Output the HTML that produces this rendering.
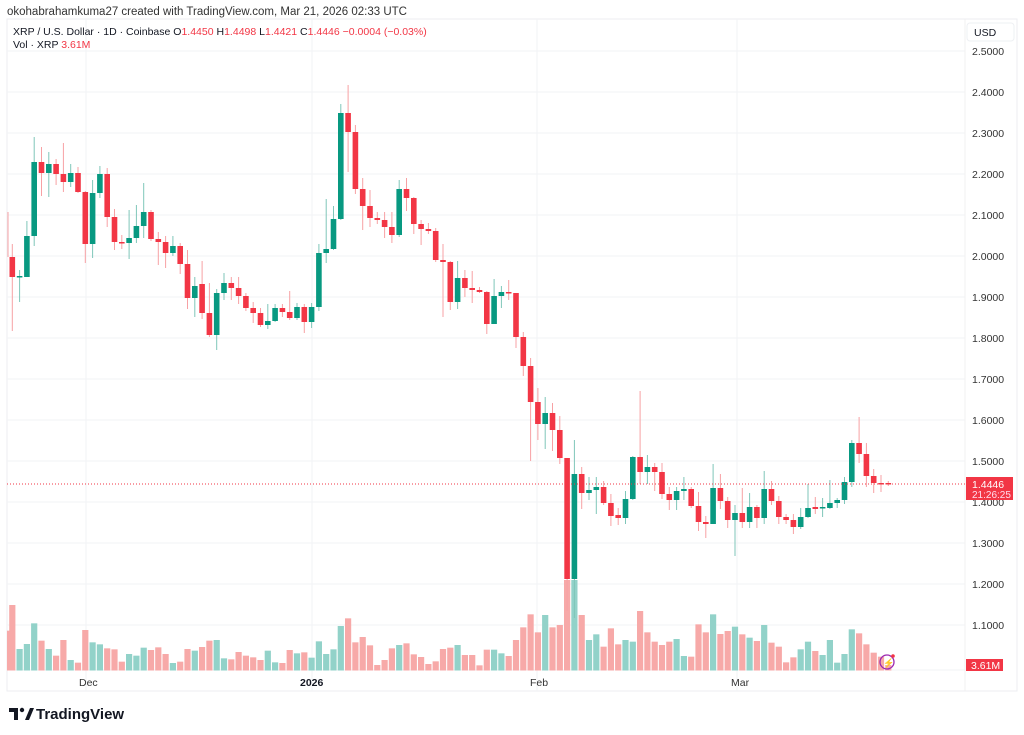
<!DOCTYPE html>
<html><head><meta charset="utf-8"><style>
body{margin:0;background:#fff;width:1024px;height:735px;overflow:hidden;font-family:"Liberation Sans",sans-serif;}
svg{position:absolute;left:0;top:0}
</style></head><body>
<svg id="s" width="1024" height="735" xmlns="http://www.w3.org/2000/svg" font-family="Liberation Sans, sans-serif">
<rect x="7" y="19" width="1010" height="672" fill="none" stroke="#eceef2"/>
<line x1="965" y1="19" x2="965" y2="691" stroke="#f0f0f0"/>
<g id="grid" stroke="#f2f3f5" stroke-width="1"></g>
<g id="vol"></g>
<g id="cs"></g>
<line x1="7" y1="484" x2="965" y2="484" stroke="#f23645" stroke-dasharray="1,2" stroke-width="1"/>
<text x="7" y="15" font-size="11.5" fill="#333">okohabrahamkuma27 created with TradingView.com, Mar 21, 2026 02:33 UTC</text>
<text x="13" y="35" font-size="10.5" fill="#131722">XRP / U.S. Dollar · 1D · Coinbase <tspan>O</tspan><tspan fill="#f23645">1.4450</tspan> <tspan>H</tspan><tspan fill="#f23645">1.4498</tspan> <tspan>L</tspan><tspan fill="#f23645">1.4421</tspan> <tspan>C</tspan><tspan fill="#f23645">1.4446</tspan> <tspan fill="#f23645">−0.0004 (−0.03%)</tspan></text>
<text x="13" y="48" font-size="10.5" fill="#131722">Vol · XRP <tspan fill="#f23645">3.61M</tspan></text>
<rect x="967" y="23" width="47" height="18" rx="3" fill="#fff" stroke="#eef0f3"/>
<text x="974" y="36" font-size="10.5" fill="#131722">USD</text>
<g id="pl" font-size="10.5" fill="#333"></g>
<rect x="966" y="477" width="47" height="23" fill="#f23645"/>
<text x="972" y="488" font-size="10.5" fill="#fff">1.4446</text>
<text x="972" y="498" font-size="10" fill="#fde">21:26:25</text>
<rect x="966" y="659" width="37" height="12" fill="#f23645"/>
<text x="971" y="669" font-size="10.5" fill="#fff">3.61M</text>
<g font-size="10.5" fill="#333">
<text x="79" y="686">Dec</text>
<text x="300" y="686" font-weight="bold" fill="#131722">2026</text>
<text x="530" y="686">Feb</text>
<text x="731" y="686">Mar</text>
</g>
<circle cx="887" cy="662" r="7" fill="none" stroke="#9c27b0" stroke-width="1.3"/>
<text x="883" y="666" font-size="9" fill="#7b1fa2">⚡</text>
<circle cx="893" cy="656" r="1.8" fill="#f23645"/>
<g fill="#131722"><path d="M9 708h9v12h-4v-8h-5z"/><circle cx="22" cy="710" r="2.2"/><path d="M25 720l5-12h4l-5 12z"/></g>
<text x="36" y="719" font-size="15" font-weight="bold" fill="#131722">TradingView</text>
</svg>
<script>
var NS="http://www.w3.org/2000/svg";
function el(p,t,a){var e=document.createElementNS(NS,t);for(var k in a)e.setAttribute(k,a[k]);p.appendChild(e);return e;}
var g=document.getElementById('grid'),pl=document.getElementById('pl');
for(var i=0;i<=14;i++){var y=51+i*41;el(g,'line',{x1:7,x2:965,y1:y,y2:y});if(i<=14){var t=el(pl,'text',{x:972,y:y+4});t.textContent=(2.5-i*0.1).toFixed(4);}}
el(g,'line',{x1:7,x2:965,y1:670,y2:670});
[86,312,537,737].forEach(function(x){el(g,'line',{x1:x,x2:x,y1:19,y2:691});});
var C=[
['r',257,277,244,331],['g',276,277,270,302],['g',236,277,221,277],['g',162,236,137,246],['r',162,173,147,196],
['g',164,173,152,197],['r',164,174,159,185],['r',174,182,143,192],['g',173,182,164,187],['r',173,192,167,193],
['r',192,244,191,263],['g',193,244,180,258],['g',174,193,166,198],['r',174,217,168,227],['r',217,242,209,250],
['r',242,243,235,249],['g',238,243,210,259],['g',226,238,205,243],['g',212,226,183,238],['r',212,239,210,241],
['r',239,242,232,265],['r',242,253,236,268],['g',246,253,236,256],['r',246,264,243,274],['r',264,298,250,309],
['g',286,298,277,317],['r',284,313,261,319],['r',313,335,283,337],['g',293,335,289,350],['g',283,293,273,300],
['r',283,288,277,300],['r',288,296,277,304],['r',296,308,293,311],['r',308,313,302,323],['r',313,325,308,327],
['g',321,325,304,329],['g',308,321,304,322],['r',308,312,304,317],['r',312,318,291,320],['g',307,318,303,320],
['r',307,322,304,333],['g',307,322,303,328],['g',253,307,244,311],['g',249,253,199,263],['g',219,249,206,250],
['g',113,219,104,220],['r',113,132,85,172],['r',132,189,125,194],['r',189,206,178,230],['r',206,218,190,227],
['r',218,220,212,224],['r',220,227,212,238],['r',227,235,212,243],['g',189,235,180,237],['r',189,198,178,211],
['r',198,224,197,234],['r',224,229,220,245],['r',229,231,223,234],['r',231,260,228,262],['r',260,262,244,317],
['r',262,302,261,310],['g',278,302,261,309],['r',278,288,270,297],['r',288,290,271,303],['r',290,292,287,293],
['r',292,324,291,334],['g',296,324,279,324],['g',292,296,286,308],['r',292,293,280,300],['r',293,337,293,348],
['r',337,366,332,376],['r',366,402,358,461],['r',402,424,388,440],['g',413,424,397,449],['r',413,430,403,451],
['r',430,458,416,464],['r',458,579,458,611],['g',474,579,440,618],['r',474,493,467,509],['g',490,493,477,500],
['g',487,490,477,514],['r',487,503,481,505],['r',503,516,494,526],['r',515,518,508,525],['g',499,518,491,524],
['g',457,499,456,500],['r',457,472,391,484],['g',467,472,455,484],['r',467,472,463,491],['r',472,494,463,499],
['r',494,500,487,510],['g',491,500,487,510],['g',489,491,477,500],['r',489,506,487,508],['r',506,522,492,531],
['r',522,524,516,538],['g',488,524,464,524],['r',488,501,474,509],['r',501,520,497,528],['g',513,520,505,556],
['r',513,522,488,528],['g',507,522,493,528],['r',507,518,505,528],['g',489,518,471,524],['r',489,501,481,505],
['r',501,517,496,524],['r',517,520,514,524],['r',520,527,514,534],['g',517,527,508,529],['g',508,517,484,518],
['r',507,509,497,514],['g',507,508,498,517],['g',503,508,480,509],['g',500,503,498,508],['g',482,500,477,504],
['g',443,482,440,487],['r',443,454,417,463],['r',454,476,443,487],['r',476,483,469,493],['r',483,484,475,492],
['r',483,484,481,486]];
var V1=[30,'r',162,'g',147,'g',85,'g',137,'r',162,'g',182,'r',135,'r',195,'g',203,'r',105,'r',142,'g',148,'g',160,'r',163,'r',200,'r',177,'g',182,'g',158,'g',165,'r',157,'r',177,'r',204,'g',200,'r',162,'r',167,'g',156,'r',137,'r',135,'g',190,'g',193,'r',171,'r',182,'r',187,'r',195,'r',167,'g',202,'g',204,'r',165,'r',175,'g',172,'r',188,'g',139,'g',177,'g',163,'g',93,'g',70,'r',142,'r',126,'r',151,'r',210,'r',195,'r',160,'r',150,'g',145,'r',178,'r',186,'r',207,'r',199,'r',162,'r',158,'r',150,'g',180,'r',180,'r',211,'r',164,'r',164,'g',175,'g',183,'r',135,'r'];
var V2=[742,'r',703,'r',757,'r',705,'g',742,'r',735,'r',600,'r',600,'g',705,'r',780,'g',763,'g',800,'r',745,'r',793,'r',780,'g',785,'g',693,'r',757,'r',785,'r',795,'r',785,'r',777,'g',828,'g',830,'r',733,'r',757,'r',703,'g',762,'r',753,'r',740,'g',763,'r',773,'g',783,'r',735,'g',788,'r',800,'r',847,'r',832,'r',808,'g',785,'g',813,'r',825,'g',780,'g',848,'g',822,'g',748,'g',760,'r',793,'r',818,'r',830,'r',855,'r'];
var vol=document.getElementById('vol'),cs=document.getElementById('cs');
function X(i){return 12.3+7.3*i;}
var VB=670.5;
for(var i=0;i<70;i++){var y=595+V1[2*i]/3;el(vol,'rect',{x:X(i)-3.1,y:y,width:6.2,height:VB-y,fill:V1[2*i+1]=='g'?'#92d2c9':'#f7a9a8'});}
el(vol,'rect',{x:7,y:595+107/3,width:2.5,height:VB-595-107/3,fill:'#f7a9a8'});
for(var j=0;j<51;j++){var i=70+j;var y=380+V2[2*j]/3;el(vol,'rect',{x:X(i)-3.1,y:y,width:6.2,height:VB-y,fill:V2[2*j+1]=='g'?'#92d2c9':'#f7a9a8'});}
el(cs,'line',{x1:8,x2:8,y1:212,y2:257,stroke:'#f7a1a4',"stroke-width":1});
for(var i=0;i<C.length;i++){var c=C[i],x=X(i),col=c[0]=='g'?'#089981':'#f23645',wc=c[0]=='g'?'#7fc6b9':'#f7a1a4';
el(cs,'line',{x1:x,x2:x,y1:c[3],y2:c[4],stroke:wc,"stroke-width":1});
el(cs,'rect',{x:x-2.8,y:c[1],width:5.6,height:Math.max(1.5,c[2]-c[1]),fill:col});}
</script>
</body></html>
